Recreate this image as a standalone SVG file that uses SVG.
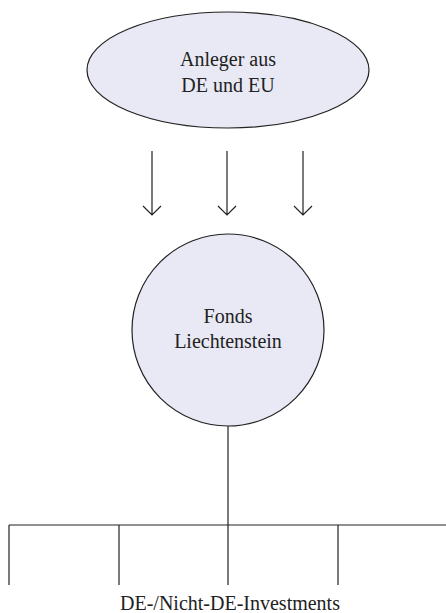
<svg xmlns="http://www.w3.org/2000/svg" width="446" height="613" viewBox="0 0 446 613">
<style>
.node{fill:#e9e9f5;stroke:#222;stroke-width:1.2}
.lbl{font-family:'Liberation Serif','Times New Roman','DejaVu Serif',serif;font-size:20px;fill:#222;text-anchor:middle}
.c{stroke:#222;stroke-width:1.2;fill:none}
</style>
<rect width="446" height="613" fill="#fff"/>
<g id="anleger">
<ellipse class="node" cx="228" cy="70" rx="141" ry="58"/>
<text class="lbl" x="228" y="66" font-family="Liberation Serif, serif">Anleger aus</text>
<text class="lbl" x="228" y="92" font-family="Liberation Serif, serif">DE und EU</text>
</g>
<g id="fonds">
<circle class="node" cx="228" cy="330" r="96"/>
<text class="lbl" x="228" y="323" font-family="Liberation Serif, serif">Fonds</text>
<text class="lbl" x="228" y="348" font-family="Liberation Serif, serif">Liechtenstein</text>
</g>
<g id="connectors">
<path class="c" d="M152 151V215M143 206L152 215L161 206"/>
<path class="c" d="M227 151V215M218 206L227 215L236 206"/>
<path class="c" d="M303 151V215M294 206L303 215L312 206"/>
<path class="c" d="M228 426V525M9 525H446M9 525V585M119 525V585M228 525V585M338 525V585"/>
</g>
<g id="investments">
<text class="lbl" x="230" y="610" font-size="21" font-family="Liberation Serif, serif">DE-/Nicht-DE-Investments</text>
</g>
</svg>
